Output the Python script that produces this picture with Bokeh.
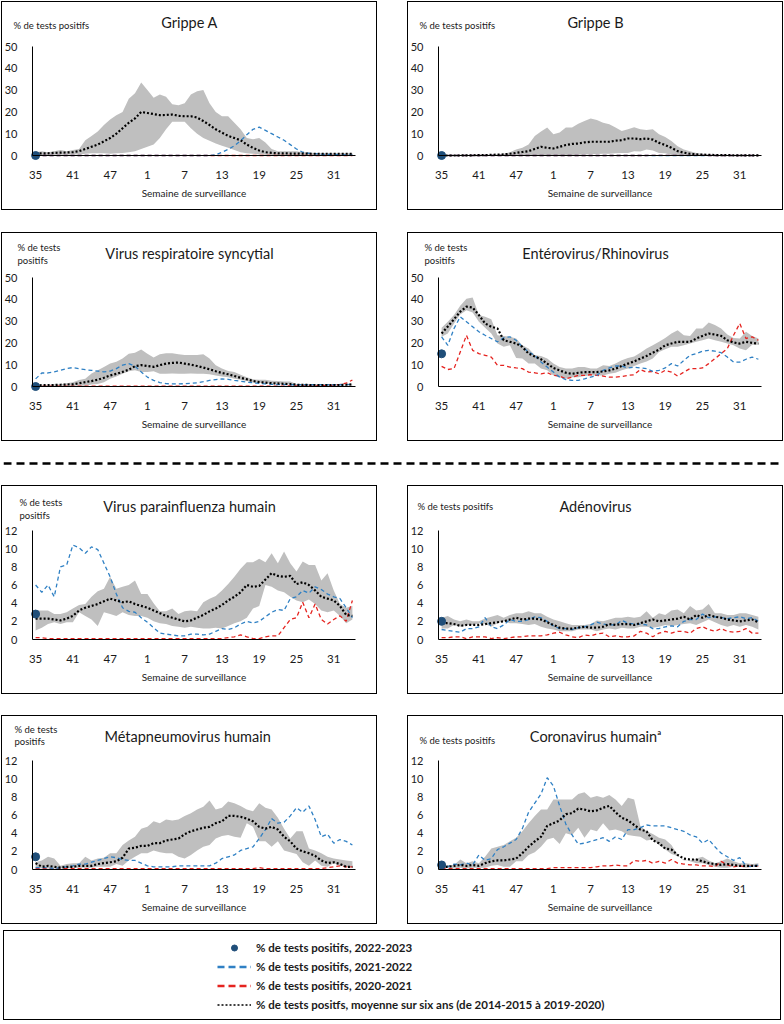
from bokeh.plotting import figure
from bokeh.models import FixedTicker, Label, Span, Legend, LegendItem, Spacer
from bokeh.layouts import column, row
from bokeh.embed import file_html
from bokeh.resources import INLINE

# ---------------- data ----------------
weeks = list(range(35, 53)) + list(range(1, 35))
tick_idx = [0, 6, 12, 18, 24, 30, 36, 42, 48]

# Grippe A
gA_hi = [1.5, 2, 1.5, 2, 2.5, 2, 2.5, 3, 7, 9, 11, 14, 16.5,
         18.5, 20, 26, 28.5, 33.5, 30, 26.5, 28, 27, 23.5, 23, 24, 28,
         29.5, 30, 24, 20, 18, 18, 15, 12, 8, 7.5, 8, 6, 3,
         2, 2, 2, 2, 1.5, 1.5, 1, 1, 1, 1, 1, 1, 1]
gA_lo = [0, 0, 0.3, 0.3, 0.3, 0.3, 0.5, 0.5, 0.8, 1, 1, 1, 0.8,
         1, 1.2, 1.5, 2, 3, 4, 5, 8, 12, 15.5, 15.5, 15.5, 12.5,
         10, 8, 6.8, 5.5, 4.5, 3.5, 2.5, 1.5, 1, 0.8, 0.5, 0.3, 0.2,
         0.2, 0.2, 0.2, 0.2, 0.2, 0.2, 0.2, 0.2, 0.2, 0.2, 0.2, 0.2, 0.2]
gA_mean = [0.9, 1, 1, 1.2, 1.3, 1.4, 1.5, 2, 3, 4, 5, 6.5, 8,
           10, 12.5, 15, 17, 20, 19.5, 19, 18.5, 18.6, 18.8, 18.2, 18, 18,
           17.4, 15.8, 14, 12, 10.5, 9, 8, 7, 5, 3.5, 2.3, 1.5, 1.2,
           1, 1, 0.9, 0.9, 0.9, 0.8, 0.8, 0.8, 0.8, 0.8, 0.8, 0.8, 0.8]
gA_2122 = [0, 0, 0, 0, 0, 0, 0, 0, 0, 0, 0, 0, 0,
           0, 0, 0, 0, 0, 0, 0, 0, 0, 0, 0, 0, 0,
           0, 0, 0, 0.3, 1.5, 2.8, 4.5, 6.8, 9.5, 12, 13, 11.5, 10,
           8.5, 7, 5, 3, 1.5, 1, 0.8, 0.6, 0.5, 0.5, 0.4, 0.3, 0.3]
gA_2021 = [0, 0, 0, 0, 0, 0, 0, 0, 0, 0, 0, 0, 0,
           0, 0, 0, 0, 0, 0, 0, 0, 0, 0, 0, 0, 0,
           0, 0, 0, 0, 0, 0, 0, 0, 0, 0, 0, 0, 0,
           0, 0, 0, 0, 0, 0, 0, 0, 0, 0, 0, 0, 0]
gA_2223 = [0]

# Grippe B
gB_hi = [0.3, 0.3, 0.3, 0.3, 0.3, 0.4, 0.4, 0.5, 0.5, 0.6, 0.8, 1.5, 2.8,
         3.5, 5, 9, 11, 12.8, 9.7, 10.5, 12.8, 12.8, 14.6, 15.8, 17, 16.3,
         15, 14.3, 12.8, 11.2, 12, 13, 12, 11.7, 12, 9.7, 8.5, 6.6, 4.3,
         2.8, 2, 1.2, 0.8, 0.5, 0.4, 0.3, 0.3, 0.2, 0.2, 0.2, 0.2, 0.2]
gB_lo = [0, 0, 0, 0, 0, 0, 0, 0, 0, 0, 0, 0, 0,
         0, 0, 0, 0, 0, 0, 0, 0, 0.2, 0.3, 0.5, 0.6, 0.7,
         0.8, 0.8, 1, 1.2, 1.2, 2, 1.8, 2.8, 2.3, 1.2, 1, 0.2, 0,
         0, 0, 0, 0, 0, 0, 0, 0, 0, 0, 0, 0, 0]
gB_mean = [0, 0, 0, 0, 0.1, 0.1, 0.2, 0.2, 0.3, 0.4, 0.5, 0.8, 1.2,
           1.6, 2, 3, 4, 3.5, 3.2, 4, 4.8, 5.3, 5.5, 6, 6.3, 6.3,
           6.3, 6.3, 6.8, 7, 7.8, 7.8, 7.5, 7.8, 7.3, 5.8, 4.8, 3.5, 2,
           1.3, 0.8, 0.5, 0.4, 0.3, 0.2, 0.2, 0.2, 0.1, 0.1, 0.1, 0.1, 0.1]
gB_2122 = [0, 0, 0, 0, 0, 0, 0, 0, 0, 0, 0, 0, 0,
           0, 0, 0, 0, 0, 0, 0, 0, 0, 0, 0, 0, 0,
           0, 0, 0, 0, 0, 0, 0, 0, 0, 0, 0, 0, 0,
           0, 0, 0, 0, 0, 0, 0, 0, 0, 0, 0, 0, 0]
gB_2021 = [0, 0, 0, 0, 0, 0, 0, 0, 0, 0, 0, 0, 0,
           0, 0, 0, 0, 0, 0, 0, 0, 0, 0, 0, 0, 0,
           0, 0, 0, 0, 0, 0, 0, 0, 0.1, 0.1, 0.1, 0.1, 0.1,
           0.1, 0.1, 0.1, 0.1, 0, 0, 0, 0, 0, 0, 0, 0, 0]
gB_2223 = [0]

# Virus respiratoire syncytial
rsv_hi = [0.8, 0.8, 0.8, 1, 1, 1.5, 2, 3, 3.5, 6, 7.5, 9, 10.5,
          11.3, 12.8, 15, 15.5, 17, 15, 13.3, 14.8, 15.2, 15.2, 14.8, 14.4, 14.4,
          14.4, 14.8, 12.8, 9.8, 8.2, 7.1, 6.7, 5.4, 4.3, 3.3, 3.1, 3.1, 2.6,
          2.5, 2.3, 2.3, 1.2, 1.2, 1.1, 1, 1, 1, 0.9, 0.9, 0.9, 0.8]
rsv_lo = [0.3, 0.3, 0.3, 0.3, 0.3, 0.3, 0.3, 0.3, 0.3, 0.9, 1.2, 2, 3.5,
          4.6, 5.9, 7, 7.4, 6.7, 6.7, 7, 5.9, 5.9, 6, 5.9, 5.9, 6,
          5.9, 5.9, 5.6, 5.1, 4.6, 4.3, 3.5, 3.1, 2.5, 2, 1.7, 1.5, 1.3,
          1.2, 1, 0.9, 0.5, 0.5, 0.5, 0.5, 0.5, 0.5, 0.5, 0.5, 0.5, 0.5]
rsv_mean = [0.5, 0.6, 0.6, 0.7, 0.8, 0.9, 1, 1.5, 2, 2.5, 3.1, 4, 5.1,
            5.8, 6.7, 7.7, 9.3, 9.8, 9.4, 9, 9.8, 10.5, 10.8, 11, 10.5, 10,
            9.4, 8.7, 7.9, 7, 6.2, 5.6, 4.8, 4, 3.3, 2.5, 2, 1.8, 1.5,
            1.4, 1.2, 1.1, 0.8, 0.7, 0.7, 0.6, 0.6, 0.6, 0.6, 0.7, 0.8, 1]
rsv_2122 = [3.5, 6.2, 6.2, 6.7, 7.4, 8.2, 8.7, 8.2, 7.7, 7.4, 7.1, 6.7, 7.1,
            8.2, 9.8, 10.5, 9.3, 6.7, 4.3, 2.8, 1.8, 1.3, 1.2, 1.2, 1.3, 1.5,
            1.7, 2.2, 2.8, 3.2, 3.5, 3.3, 2.8, 2.4, 2, 1.7, 1.4, 1.2, 1,
            0.9, 0.9, 0.8, 0.8, 0.8, 0.8, 0.8, 0.8, 0.8, 0.8, 0.8, 0.9, 1]
rsv_2021 = [0.2, 0.2, 0.2, 0.2, 0.2, 0.2, 0.2, 0.2, 0.2, 0.2, 0.2, 0.2, 0.2,
            0.2, 0.2, 0.2, 0.2, 0.2, 0.2, 0.2, 0.2, 0.2, 0.2, 0.2, 0.2, 0.2,
            0.2, 0.2, 0.2, 0.2, 0.2, 0.2, 0.2, 0.2, 0.2, 0.2, 0.2, 0.2, 0.2,
            0.2, 0.2, 0.3, 0.3, 0.3, 0.3, 0.3, 0.4, 0.5, 0.6, 1, 1.5, 3]
rsv_2223 = [0]

# Entérovirus/Rhinovirus
ev_hi = [26.9, 29.7, 32.8, 37, 40.2, 40.8, 32.8, 32, 30.9, 23.5, 23.2, 22.8, 22,
         18.9, 17.4, 14.3, 14, 12.8, 10.5, 8.9, 8.2, 8.2, 8.9, 8.9, 8.2, 8.2,
         9.7, 9.4, 10.5, 12, 13.1, 13.8, 15.5, 17.4, 18.9, 20.5, 22.3, 24.3, 25.8,
         23.5, 23.2, 26.6, 26.6, 29.4, 28.2, 26.6, 23.8, 22.3, 22, 25.1, 23.2, 22]
ev_lo = [22.8, 24.3, 28.9, 33, 35, 34, 29.7, 26.9, 24.3, 19.7, 18.2, 18.9, 13.1,
         12.8, 10.5, 10.5, 8.2, 7.4, 5.1, 4.3, 3.5, 4.3, 4.3, 4.8, 5.1, 5.1,
         5.1, 5.8, 6.3, 7.4, 8.2, 9.4, 10.5, 11.5, 12.8, 15.8, 17.1, 18.2, 18.2,
         18.9, 19.7, 20.5, 21.2, 22, 21.2, 20.5, 19.7, 18.9, 17.4, 16.6, 19.2, 19.2]
ev_mean = [24.3, 27.5, 30.9, 34.3, 36.6, 36.2, 32.8, 28.9, 27.4, 26.6, 21.2, 20.5, 19.7,
           18.2, 15.1, 13.8, 12.5, 10.5, 8.5, 7.4, 6.3, 5.8, 6.3, 6.6, 6.6, 6.6,
           6.9, 7.4, 8.2, 9.4, 10.5, 11.5, 12.8, 14, 15.5, 16.9, 18.9, 19.7, 20.5,
           20.5, 20.5, 22, 23.2, 24.3, 23.8, 23.2, 21.2, 20.2, 19.7, 20.5, 20, 19.7]
ev_2122 = [22.8, 18.9, 26.6, 32, 29.7, 27.4, 25.1, 23.5, 22, 20.5, 22.3, 22.8, 21.2,
           18.2, 15.8, 14.3, 11.2, 8.9, 6.6, 4.3, 3.2, 2.8, 2.8, 3.5, 4.3, 5.1,
           7.4, 8.5, 9.4, 9.4, 8.5, 8.9, 8.5, 8.2, 6.9, 7.4, 8.5, 10.5, 9.4,
           12, 14.3, 15.1, 16.2, 16.6, 16.2, 15.5, 13.5, 11.2, 11.2, 12.5, 13.5, 12.5]
ev_2021 = [9.2, 7.8, 8.2, 15.8, 23.5, 16.6, 15.1, 14.3, 13.5, 9.7, 9.7, 8.9, 8.5,
           8.2, 6.6, 6.3, 5.8, 6.3, 5.1, 4.8, 3.5, 4.3, 5.1, 5.1, 5.4, 5.1,
           4.8, 4.3, 4.3, 4.6, 5.1, 5.4, 7.8, 6.6, 6.9, 5.8, 7.4, 6.6, 4.8,
           6.6, 8.2, 8.2, 8.5, 10.5, 12.8, 15.1, 17.4, 23.5, 28.9, 22, 22.8, 21.2]
ev_2223 = [15]

# Virus parainfluenza humain
pi_hi = [3.2, 3.2, 3.2, 2.8, 2.8, 3, 3.4, 3.8, 3.9, 4.7, 5.3, 5.6, 6.9,
         5.6, 5.8, 6, 6.5, 5, 5, 4, 3.1, 3.1, 3.4, 2.8, 3.1, 3.2,
         3.1, 4.1, 4.5, 4.8, 5.4, 6.1, 6.9, 7.8, 8.5, 8.5, 8.9, 8.5, 9.5,
         8.4, 9.7, 8.4, 7.5, 8.6, 8.2, 8.2, 6.5, 7.3, 5.4, 3.9, 3.5, 3.7]
pi_lo = [1, 1.3, 1.7, 1.9, 1.7, 1.9, 1.9, 3, 2.6, 2.2, 1.5, 3, 2.8,
         2.6, 3, 2.7, 2.6, 2.6, 2.4, 2, 1.8, 1.7, 1.5, 1.4, 1.3, 1.4,
         1.3, 1.2, 1.2, 1.3, 1.2, 1.5, 1.8, 2, 2.4, 3.4, 3.7, 6, 5.8,
         5.4, 5.2, 4.7, 4.3, 4.1, 4.4, 3.9, 3.2, 3, 3.2, 2.6, 1.8, 2.2]
pi_mean = [2.3, 2.3, 2.3, 2.2, 2.1, 2.3, 2.6, 3.2, 3.5, 3.7, 3.9, 4.2, 4.5,
           4.3, 4.1, 4.2, 3.9, 3.7, 3.5, 3.2, 2.9, 2.6, 2.4, 2.2, 2, 2.1,
           2.4, 2.7, 3.1, 3.4, 3.8, 4.3, 4.7, 5.2, 6, 5.8, 5.9, 6.6, 7.3,
           7, 6.9, 7, 6.1, 6.3, 6, 5.4, 4.7, 4.5, 4.3, 3.7, 2.7, 2.6]
pi_2122 = [6, 5.2, 6, 4.7, 8, 8.2, 10.4, 10.1, 9.5, 10.2, 9.9, 8.4, 6.9,
           5, 3.5, 3.1, 3, 2.4, 1.9, 1.3, 0.7, 0.6, 0.5, 0.4, 0.4, 0.6,
           0.6, 0.5, 0.6, 0.9, 1.2, 1.1, 1.3, 1.7, 2, 1.8, 2, 2.5, 3,
           3.3, 3.2, 4.5, 4.7, 5.4, 5.1, 5.8, 5.5, 5, 4.7, 4.5, 3.5, 2.4]
pi_2021 = [0.2, 0.2, 0.1, 0.1, 0.1, 0.1, 0.1, 0.1, 0.1, 0.1, 0.1, 0.1, 0.1,
           0.1, 0.1, 0.1, 0.1, 0.1, 0.1, 0.1, 0.1, 0.1, 0.1, 0.1, 0.1, 0.1,
           0.1, 0.1, 0.1, 0.1, 0.1, 0.2, 0.3, 0.5, 0.3, 0.1, 0.1, 0.3, 0.4,
           0.4, 1.3, 2.2, 2.4, 4.1, 2.4, 3.9, 2.2, 1.7, 2.2, 2.6, 2, 4.3]
pi_2223 = [2.8]

# Adénovirus
ad_hi = [2.4, 2.6, 2.2, 2, 2.2, 2, 2, 2.3, 2.5, 2.7, 2.4, 2.7, 2.9,
         2.9, 3.1, 2.9, 2.9, 2.5, 2.2, 2, 1.8, 1.6, 1.6, 1.6, 1.7, 2.1,
         2, 2.2, 2.4, 2.4, 2.5, 2.4, 2.5, 3.1, 2.4, 2.9, 2.7, 3.2, 3.3,
         2.9, 3.7, 3.2, 3.3, 3.9, 2.9, 2.9, 2.7, 2.7, 2.9, 2.9, 2.7, 2.5]
ad_lo = [1.2, 1.2, 1.6, 1.4, 1.6, 1.6, 1.8, 1.7, 1.4, 1.8, 2, 1.8, 1.8,
         1.7, 1.6, 1.7, 1.4, 1.2, 1.1, 0.9, 0.9, 0.9, 1.1, 1.1, 1.1, 0.9,
         1.1, 1.2, 1.1, 1.3, 1.2, 1.2, 1.4, 1.4, 1.3, 1.4, 1.6, 1.5, 1.6,
         1.7, 1.8, 1.6, 1.9, 2.2, 1.9, 1.6, 1.4, 1.6, 1.4, 1.6, 1.4, 1.1]
ad_mean = [1.8, 1.8, 1.7, 1.5, 1.6, 1.6, 1.6, 1.7, 1.8, 1.9, 2, 2.2, 2.4,
           2.2, 2.3, 2.3, 2.2, 1.9, 1.6, 1.3, 1.2, 1.2, 1.3, 1.4, 1.3, 1.3,
           1.4, 1.7, 1.6, 1.7, 1.7, 1.6, 1.8, 2, 2.2, 2, 2.1, 2.2, 2.3,
           2.5, 2.2, 2.7, 2.4, 2.7, 2.5, 2.4, 2.2, 2.1, 2, 2.1, 2.2, 1.9]
ad_2122 = [1.1, 1, 0.9, 0.8, 1.2, 1.2, 1.4, 2.4, 1.4, 1.2, 1.6, 2.2, 2,
           2, 2.2, 2.5, 2.4, 2, 1.5, 1.2, 1.2, 1.1, 1.3, 1.4, 1.6, 1.9,
           1.7, 1.6, 1.6, 2.1, 1.8, 1.7, 1.7, 1.6, 1.2, 1.2, 1.4, 1.5, 1.4,
           2, 2.2, 2.2, 2.8, 2.4, 2.5, 2.4, 2.3, 2.4, 2.5, 2.3, 2.4, 2]
ad_2021 = [0.2, 0.2, 0.3, 0.3, 0.1, 0.3, 0.3, 0.3, 0.1, 0.2, 0.1, 0.2, 0.3,
           0.3, 0.4, 0.4, 0.4, 0.5, 0.7, 0.8, 0.5, 0.3, 0.2, 0.5, 0.4, 0.6,
           0.7, 0.3, 0.4, 0.3, 0.3, 0.4, 0.9, 0.7, 0.3, 0.7, 0.9, 0.7, 0.9,
           0.9, 0.7, 1.2, 1.4, 1.1, 0.9, 1.2, 0.9, 0.8, 0.9, 1.2, 0.7, 0.7]
ad_2223 = [2]

# Métapneumovirus humain
mp_hi = [0.8, 1, 1.4, 1.2, 0.4, 0.6, 0.7, 0.7, 1.4, 1, 1.2, 1.3, 1.8,
         1.8, 2.7, 3.2, 3.6, 4.5, 4.7, 5.3, 5.1, 5.5, 5.4, 5.5, 5.9, 6.2,
         6.6, 6.9, 7.6, 6.6, 6.8, 7.5, 7.3, 7, 6.6, 6.4, 7.3, 6.8, 6.6,
         5.7, 4.5, 3.4, 4.2, 4.2, 2.3, 2.1, 1.8, 1.4, 1.2, 1.1, 1, 0.9]
mp_lo = [0.1, 0.1, 0.1, 0.1, 0.1, 0.1, 0.2, 0.2, 0.2, 0.2, 0.3, 0.3, 0.3,
         0.6, 0.4, 1, 1.4, 1.8, 1.8, 2.1, 1.9, 1.8, 1.8, 1.4, 1.2, 1.6,
         2.1, 2.5, 2.7, 3.4, 3.7, 3.8, 3.6, 3.5, 5.1, 4.7, 3.1, 3.1, 2.5,
         3.1, 2.1, 1.9, 1.7, 0.8, 0.4, 1, 0.4, 0.3, 0.7, 0.4, 0.3, 0.2]
mp_mean = [0.7, 0.3, 0.4, 0.3, 0.2, 0.3, 0.3, 0.4, 0.4, 0.4, 0.6, 0.7, 0.8,
           0.9, 1.3, 2.3, 2.4, 2.6, 2.6, 2.9, 2.9, 3.2, 3.3, 3.4, 3.9, 4.2,
           4.4, 4.6, 4.7, 5.1, 5.3, 5.9, 5.9, 5.8, 5.6, 5.3, 4.7, 4.5, 4.7,
           4.4, 3.6, 3.1, 2.3, 2, 1.8, 1.5, 1, 0.7, 0.8, 0.6, 0.3, 0.3]
mp_2122 = [0.2, 0.2, 0.2, 0.1, 0.2, 0.3, 0.4, 0.6, 0.6, 0.8, 1, 1.2, 1.4,
           1.3, 1.1, 1, 1, 0.7, 0.4, 0.3, 0.3, 0.3, 0.3, 0.4, 0.4, 0.4,
           0.4, 0.4, 0.4, 0.7, 1.2, 1.4, 1.6, 2.1, 2.3, 2.5, 3.4, 4.4, 5.6,
           5.1, 5.2, 5.9, 6.8, 6.3, 7, 5.5, 3.6, 3.9, 2.9, 3.3, 3.1, 2.7]
mp_2021 = [0.1, 0.1, 0.1, 0.1, 0.1, 0.1, 0.1, 0.1, 0.1, 0.1, 0.1, 0.1, 0.1,
           0.1, 0.1, 0.1, 0.1, 0.1, 0.1, 0.1, 0.1, 0.1, 0.1, 0.1, 0.1, 0.1,
           0.1, 0.1, 0.1, 0.1, 0.1, 0.1, 0.1, 0.1, 0.1, 0.1, 0.2, 0.1, 0.1,
           0.1, 0.1, 0.1, 0.1, 0.1, 0.1, 0.1, 0.1, 0.2, 0.3, 0.4, 0.3, 0.3]
mp_2223 = [1.4]

# Coronavirus humain
cv_hi = [0.5, 0.5, 0.5, 1.1, 0.7, 0.9, 0.7, 1.4, 2.3, 2.5, 2.7, 3.1, 3.5,
         4.2, 5.1, 5.9, 6.6, 6.6, 7.7, 7.7, 7.7, 7.7, 8.3, 8.5, 7.9, 8.1,
         7.9, 8.2, 7.7, 7, 7.9, 7.7, 4.8, 4.2, 3.9, 3.5, 3.3, 2.7, 1.6,
         1, 1, 1.2, 1.4, 1, 0.7, 0.9, 1.2, 0.9, 0.7, 0.7, 0.6, 0.7]
cv_lo = [0.2, 0.2, 0.1, 0.2, 0.1, 0.2, 0.2, 0.2, 0.4, 0.5, 0.3, 0.3, 0.9,
         0.9, 1.6, 1.9, 2.5, 3.3, 3.5, 2.8, 4, 3.8, 4.6, 3.5, 4.4, 4.2,
         5.1, 4.3, 4.4, 4.2, 3.8, 3.7, 3.6, 3.2, 3.3, 2.7, 2.2, 1.7, 1.5,
         1.1, 0.9, 0.7, 0.7, 0.5, 0.3, 0.2, 0.2, 0.3, 0.3, 0.2, 0.3, 0.3]
cv_mean = [0.3, 0.3, 0.4, 0.5, 0.4, 0.5, 0.4, 0.7, 0.9, 1, 1, 1.1, 1.2,
           1.8, 2.5, 3.1, 3.6, 4.8, 5.1, 5.4, 6.1, 6.2, 6.7, 6.6, 6.4, 6.5,
           6.8, 7, 6.3, 5.7, 5.4, 4.9, 4.4, 4.2, 3.2, 2.9, 2.3, 2.2, 1.6,
           1.2, 1.1, 1.1, 0.9, 0.7, 0.6, 0.5, 0.6, 0.5, 0.4, 0.4, 0.4, 0.4]
cv_2122 = [0.9, 0.3, 0.6, 0.5, 0.7, 0.5, 1.6, 1, 1.2, 2.2, 2.5, 2.9, 3.3,
           4.5, 6.3, 7.3, 8.3, 10.1, 9.2, 7, 5, 3.8, 2.8, 2.9, 3.1, 3.3,
           3.5, 3.1, 3.6, 3.3, 4.4, 4.4, 4.6, 4.9, 4.8, 4.8, 4.8, 4.6, 4.4,
           4.2, 3.8, 3.6, 2.9, 3.3, 2.5, 1.8, 1.4, 1, 1.3, 0.4, 0.3, 0.5]
cv_2021 = [0.1, 0.1, 0.1, 0.1, 0.1, 0.1, 0.1, 0.1, 0.1, 0.1, 0.1, 0.1, 0.1,
           0.1, 0.1, 0.1, 0.1, 0.1, 0.2, 0.2, 0.2, 0.2, 0.2, 0.2, 0.2, 0.3,
           0.4, 0.4, 0.5, 0.4, 0.4, 1, 0.9, 1, 0.7, 0.9, 0.7, 1.1, 0.7,
           0.6, 0.5, 0.5, 0.4, 0.4, 0.3, 0.9, 0.5, 0.3, 0.4, 0.3, 0.4, 0.4]
cv_2223 = [0.5]

legend_labels = ["% de tests positifs, 2022-2023",
                 "% de tests positifs, 2021-2022",
                 "% de tests positifs, 2020-2021",
                 "% de tests positfs, moyenne sur six ans (de 2014-2015 à 2019-2020)"]

# ---------------- styles / layout ----------------
FONT = "Lato"
BAND = "#BFBFBF"
BLUE = "#2F80C4"
RED = "#E5231F"
DOT = "#1F4E79"
TXT = "#1a1a1a"
BORDER = {"border": "1px solid #000000"}

CW, CH = 376, 209            # size of a panel; canvas sits 1px inside the css border
AX_L, AX_R = 30, 353         # x pixel span of the category axis (canvas coords)
AX_T, AX_B = 44, 153         # y pixel of top value / of zero (canvas coords)
X0, X1 = -0.5, 51.5          # category axis range
PXX = (AX_R - AX_L) / (X1 - X0)


def panel(title, ylab, ylab_x, ylab_ys, ymax, ystep, hi, lo, mean, s2122, s2021, s2223):
    pyy = (AX_B - AX_T) / ymax
    xr = (X0 - AX_L / PXX, X1 + (CW - AX_R) / PXX)
    yr = (-(CH - AX_B) / pyy, ymax + AX_T / pyy)

    def dx(px):
        return X0 + (px - 1 - AX_L) / PXX

    def dy(py):
        return (AX_B - (py - 1)) / pyy

    xs = list(range(len(weeks)))
    p = figure(width=CW, height=CH, output_backend="svg", toolbar_location=None,
               x_range=xr, y_range=yr, min_border=0, title_location=None)
    p.styles = BORDER
    p.outline_line_color = None
    p.grid.visible = False

    p.varea(x=xs, y1=lo, y2=hi, fill_color=BAND, fill_alpha=1)
    p.line(xs, s2021, line_color=RED, line_width=1.3, line_dash="4 3")
    p.line(xs, s2122, line_color=BLUE, line_width=1.3, line_dash="4 3")
    p.line(xs, mean, line_color="black", line_width=2.2, line_dash="2 2")

    xa = p.xaxis[0]
    ya = p.yaxis[0]
    xa.fixed_location = 0
    xa.bounds = (X0, X1)
    ya.fixed_location = X0
    ya.bounds = (0, ymax)
    xa.ticker = FixedTicker(ticks=tick_idx)
    xa.major_label_overrides = {i: str(weeks[i]) for i in tick_idx}
    ya.ticker = FixedTicker(ticks=list(range(0, ymax + 1, ystep)))
    for ax in (xa, ya):
        ax.axis_line_color = "black"
        ax.axis_line_width = 1
        ax.major_tick_line_color = None
        ax.minor_tick_line_color = None
        ax.major_label_text_font = FONT
        ax.major_label_text_color = TXT
    xa.major_label_text_font_size = "11.5px"
    ya.major_label_text_font_size = "11px"
    xa.major_label_standoff = 9
    ya.major_label_standoff = 9
    xa.axis_label = "Semaine de surveillance"
    xa.axis_label_text_font = FONT
    xa.axis_label_text_font_size = "10px"
    xa.axis_label_text_font_style = "normal"
    xa.axis_label_text_color = TXT
    xa.axis_label_standoff = 5

    p.scatter(xs[:len(s2223)], s2223, size=8, color=DOT)

    p.add_layout(Label(x=dx(CW / 2), y=dy(20.5), text=title, text_font=FONT,
                       text_font_size="14.5px", text_color=TXT,
                       text_align="center", text_baseline="middle"))
    for line, yy in zip(ylab, ylab_ys):
        p.add_layout(Label(x=dx(ylab_x), y=dy(yy), text=line, text_font=FONT,
                           text_font_size="9.5px", text_color=TXT,
                           text_align="left", text_baseline="middle"))
    return p


one = ["% de tests positifs"]
two = ["% de tests", "positifs"]

p1 = panel("Grippe A", one, 12, [24], 50, 10, gA_hi, gA_lo, gA_mean, gA_2122, gA_2021, gA_2223)
p2 = panel("Grippe B", one, 12, [24], 50, 10, gB_hi, gB_lo, gB_mean, gB_2122, gB_2021, gB_2223)
p3 = panel("Virus respiratoire syncytial", two, 16, [15, 28], 50, 10,
           rsv_hi, rsv_lo, rsv_mean, rsv_2122, rsv_2021, rsv_2223)
p4 = panel("Entérovirus/Rhinovirus", two, 17, [15, 28], 50, 10,
           ev_hi, ev_lo, ev_mean, ev_2122, ev_2021, ev_2223)
p5 = panel("Virus parainfluenza humain", two, 18, [17, 30], 12, 2,
           pi_hi, pi_lo, pi_mean, pi_2122, pi_2021, pi_2223)
p6 = panel("Adénovirus", one, 10, [21], 12, 2, ad_hi, ad_lo, ad_mean, ad_2122, ad_2021, ad_2223)
p7 = panel("Métapneumovirus  humain", two, 13, [14, 26], 12, 2,
           mp_hi, mp_lo, mp_mean, mp_2122, mp_2021, mp_2223)
p8 = panel("Coronavirus humainᵃ", one, 12, [25], 12, 2, cv_hi, cv_lo, cv_mean, cv_2122, cv_2021, cv_2223)

# dashed separator
sep = figure(width=778, height=44, output_backend="svg", toolbar_location=None,
             x_range=(0, 1), y_range=(0, 1), min_border=0, title_location=None)
sep.axis.visible = False
sep.grid.visible = False
sep.outline_line_color = None
sep.add_layout(Span(location=0.5, dimension="width", line_color="black",
                    line_width=2.5, line_dash="8 5"))

# legend box
leg = figure(width=778, height=90, output_backend="svg", toolbar_location=None,
             x_range=(0, 1), y_range=(0, 1), min_border=0, title_location=None)
leg.styles = BORDER
leg.axis.visible = False
leg.grid.visible = False
leg.outline_line_color = None
hidden_x, hidden_y = [5, 6], [5, 5]      # outside the (0, 1) ranges: legend swatches only
r1 = leg.scatter(hidden_x, hidden_y, size=8, color=DOT)
r2 = leg.line(hidden_x, hidden_y, line_color=BLUE, line_width=2.3, line_dash="7 4")
r3 = leg.line(hidden_x, hidden_y, line_color=RED, line_width=2.3, line_dash="7 4")
r4 = leg.line(hidden_x, hidden_y, line_color="black", line_width=1.3, line_dash="2 2")
legend = Legend(items=[LegendItem(label=legend_labels[0], renderers=[r1]),
                       LegendItem(label=legend_labels[1], renderers=[r2]),
                       LegendItem(label=legend_labels[2], renderers=[r3]),
                       LegendItem(label=legend_labels[3], renderers=[r4])],
                location=(213, 9), orientation="vertical",
                glyph_width=34, glyph_height=15, label_height=15, spacing=4,
                label_standoff=5, padding=0, margin=0,
                border_line_color=None, background_fill_alpha=0,
                label_text_font=FONT, label_text_font_size="11.5px",
                label_text_font_style="bold", label_text_color=TXT)
leg.add_layout(legend)

GAP = 30
layout = column(
    Spacer(height=1),
    row(Spacer(width=1), p1, Spacer(width=GAP), p2),
    Spacer(height=22),
    row(Spacer(width=1), p3, Spacer(width=GAP), p4),
    row(Spacer(width=3), sep),
    row(Spacer(width=1), p5, Spacer(width=GAP), p6),
    Spacer(height=21),
    row(Spacer(width=1), p7, Spacer(width=GAP), p8),
    Spacer(height=6),
    row(Spacer(width=3), leg),
)

open("out.html", "w").write(file_html(layout, INLINE))
